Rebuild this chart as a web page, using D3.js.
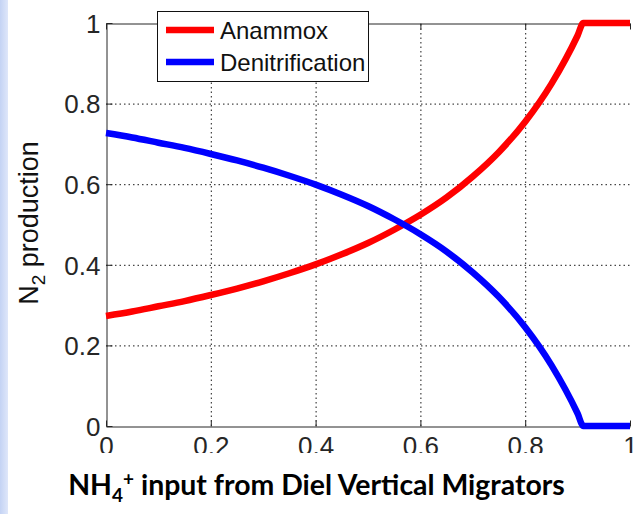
<!DOCTYPE html>
<html>
<head>
<meta charset="utf-8">
<script src="https://cdn.jsdelivr.net/npm/d3@7"></script>
<style>
  html, body { margin: 0; padding: 0; background: #fff; }
  svg { display: block; }
</style>
</head>
<body>
<svg id="chart" width="634" height="514"></svg>
<script>
// values
const xValues = [0, 0.05, 0.1, 0.15, 0.2, 0.25, 0.3, 0.35, 0.4, 0.45, 0.5, 0.55, 0.6, 0.65, 0.7, 0.75, 0.8, 0.85, 0.9, 0.911, 1];
const anammox = [0.273, 0.284, 0.297, 0.31, 0.325, 0.341, 0.359, 0.379, 0.401, 0.426, 0.454, 0.487, 0.524, 0.567, 0.619, 0.68, 0.755, 0.849, 0.969, 1, 1];
const denitrification = [0.727, 0.716, 0.703, 0.69, 0.675, 0.659, 0.641, 0.621, 0.599, 0.574, 0.546, 0.513, 0.476, 0.433, 0.381, 0.32, 0.245, 0.151, 0.031, 0, 0];
const seriesNames = ["Anammox", "Denitrification"];
const seriesColors = ["#ff0000", "#0000ff"];
const ticks = [0, 0.2, 0.4, 0.6, 0.8, 1];
const tickLabels = ["0", "0.2", "0.4", "0.6", "0.8", "1"];

const svg = d3.select("#chart");

// light blue strip on the left edge of the slide
const grad = svg.append("defs").append("linearGradient").attr("id", "edge");
grad.append("stop").attr("offset", "0%").attr("stop-color", "#c4d3f4");
grad.append("stop").attr("offset", "100%").attr("stop-color", "#dfe7fa");
svg.append("rect").attr("x", 0).attr("y", 0).attr("width", 8).attr("height", 514).attr("fill", "url(#edge)");

const x = d3.scaleLinear().domain([0, 1]).range([106, 630]);
const y = d3.scaleLinear().domain([0, 1]).range([426, 23]);

const axisColor = "#262626";

// dotted grid
const grid = svg.append("g").attr("stroke", "#1a1a1a").attr("stroke-width", 1).attr("stroke-dasharray", "1.5,3");
grid.selectAll(".gx").data(ticks.slice(1, -1)).join("line")
    .attr("class", "gx")
    .attr("x1", d => x(d) + 0.5).attr("x2", d => x(d) + 0.5)
    .attr("y1", y(0)).attr("y2", y(1));
grid.selectAll(".gy").data(ticks.slice(1, -1)).join("line")
    .attr("class", "gy")
    .attr("y1", d => y(d) + 0.5).attr("y2", d => y(d) + 0.5)
    .attr("x1", x(0)).attr("x2", x(1));

const fmt = d => tickLabels[ticks.indexOf(d)];
const tickFont = "'Liberation Sans', Arial, Helvetica, sans-serif";

// bottom axis (labels clipped by the title band below)
svg.append("defs").append("clipPath").attr("id", "xclip")
    .append("rect").attr("x", 0).attr("y", 0).attr("width", 634).attr("height", 453);
const xAxis = svg.append("g")
    .attr("clip-path", "url(#xclip)")
    .append("g")
    .attr("transform", `translate(0,${y(0) + 0.5})`)
    .call(d3.axisBottom(x).tickValues(ticks).tickFormat(fmt).tickSize(-6).tickPadding(10.5).tickSizeOuter(0));
xAxis.selectAll("text").attr("fill", axisColor).style("font", `26px ${tickFont}`);

const yAxis = svg.append("g")
    .attr("transform", `translate(${x(0) + 0.5},0)`)
    .call(d3.axisLeft(y).tickValues(ticks).tickFormat(fmt).tickSize(-6).tickPadding(6).tickSizeOuter(0));
yAxis.selectAll("text").attr("fill", axisColor).attr("dy", "0.36em").style("font", `26px ${tickFont}`);

// top frame with inner ticks
const topAxis = svg.append("g").attr("transform", `translate(0,${y(1) + 0.5})`)
    .call(d3.axisTop(x).tickValues(ticks).tickFormat("").tickSize(-6).tickSizeOuter(0));
[xAxis, yAxis, topAxis].forEach(g => {
    g.select(".domain").attr("stroke", axisColor);
    g.selectAll(".tick line").attr("stroke", axisColor);
});

// curves
const seriesData = [anammox, denitrification];
const line = d3.line()
    .x((d, i) => x(xValues[i]))
    .y(d => y(d))
    .curve(d3.curveMonotoneX);
svg.append("g").selectAll("path").data(seriesData).join("path")
    .attr("d", line)
    .attr("fill", "none")
    .attr("stroke", (d, i) => seriesColors[i])
    .attr("stroke-width", 6.5)
    .attr("stroke-linejoin", "round");

// legend
const legend = svg.append("g");
legend.append("rect")
    .attr("x", 157.5).attr("y", 11.5).attr("width", 211).attr("height", 70)
    .attr("fill", "#fff").attr("stroke", "#111").attr("stroke-width", 1);
const items = legend.selectAll("g.item").data(seriesNames).join("g")
    .attr("class", "item")
    .attr("transform", (d, i) => `translate(0,${30 + i * 32})`);
items.append("line")
    .attr("x1", 166).attr("x2", 214).attr("y1", 0).attr("y2", 0)
    .attr("stroke", (d, i) => seriesColors[i]).attr("stroke-width", 6.5);
items.append("text")
    .attr("x", 220).attr("y", 9)
    .attr("fill", "#111")
    .style("font", `24px ${tickFont}`)
    .text(d => d);

// y label
const ylab = svg.append("text")
    .attr("transform", "translate(38,223) rotate(-90)")
    .attr("text-anchor", "middle")
    .attr("fill", "#111")
    .style("font", `27px ${tickFont}`);
ylab.append("tspan").text("N");
ylab.append("tspan").attr("dy", 7).style("font-size", "19px").text("2");
ylab.append("tspan").attr("dy", -7).text(" production");

// title below the chart
const title = svg.append("text")
    .attr("x", 316.5).attr("y", 495)
    .attr("text-anchor", "middle")
    .attr("fill", "#000")
    .style("font-family", "Lato, 'Open Sans', sans-serif")
    .style("font-weight", "bold")
    .style("font-size", "28px");
title.append("tspan").text("NH");
title.append("tspan").attr("dy", 7).style("font-size", "19px").text("4");
title.append("tspan").attr("dy", -16).style("font-size", "19px").text("+");
title.append("tspan").attr("dy", 9).text(" input from Diel Vertical Migrators");
const w = title.node().getComputedTextLength();
title.style("font-size", (28 * 497 / w).toFixed(2) + "px");
</script>
</body>
</html>
